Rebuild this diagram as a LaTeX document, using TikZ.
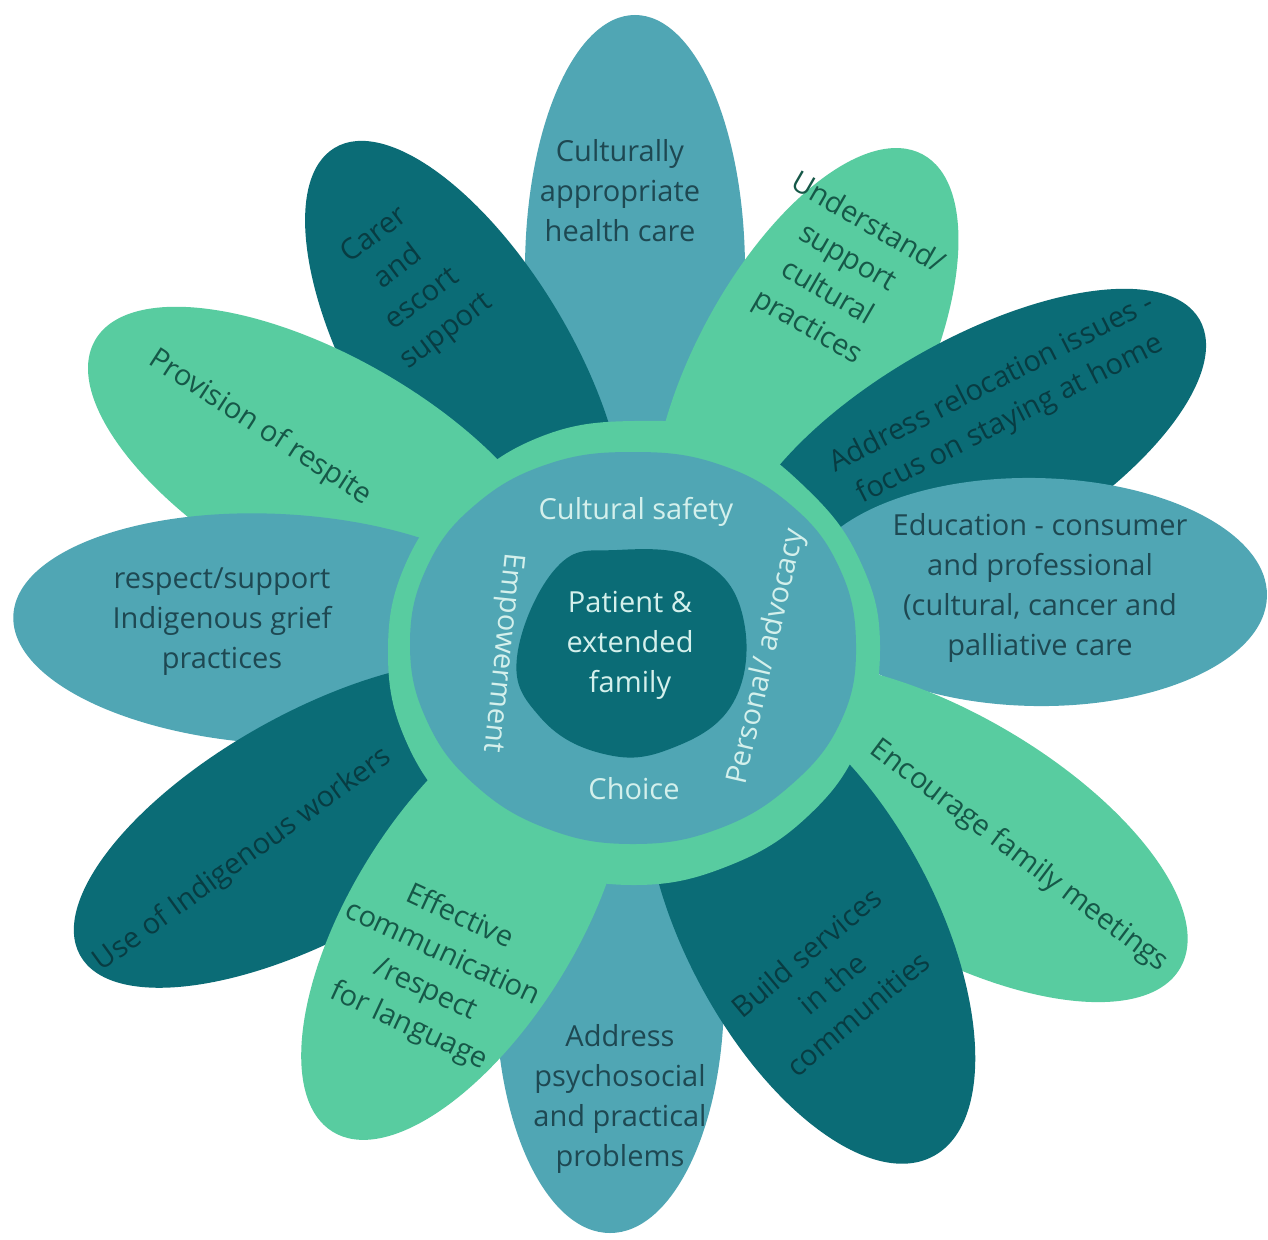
\documentclass[tikz,border=0pt]{standalone}
\usepackage{fontspec}
\setmainfont{Open Sans}
\definecolor{pblue}{RGB}{80,166,180}
\definecolor{pdark}{RGB}{11,108,118}
\definecolor{pgreen}{RGB}{88,204,160}
\definecolor{tblue}{RGB}{30,72,82}
\definecolor{tgreen}{RGB}{22,88,72}
\definecolor{tdark}{RGB}{8,60,66}
\definecolor{tlight}{RGB}{212,240,236}
\tikzset{
  lbl/.style={font=\fontsize{29}{40}\selectfont, align=center, inner sep=0pt},
  onblue/.style={lbl, text=tblue},
  ongreen/.style={lbl, text=tgreen},
  ondark/.style={lbl, text=tdark},
  innerlbl/.style={lbl, text=tlight},
}
\newcommand{\petal}[6]{\fill[#1, rotate around={#4:(#2,#3)}] (#2,#3) ellipse [x radius=#5, y radius=#6];}
\begin{document}
\begin{tikzpicture}[x=1pt, y=-1pt]
\useasboundingbox (0,0) rectangle (1268,1239);
\fill[white] (0,0) rectangle (1268,1239);
% petals (drawing order sets overlaps)
\petal{pblue}{610}{995}{-90}{238}{114}
\petal{pblue}{635}{270}{90}{255}{110}
\petal{pgreen}{805}{375}{62}{250}{112}
\petal{pdark}{465}{367}{120.7}{255}{108}
\petal{pdark}{970}{452}{30}{265}{110}
\petal{pgreen}{325}{472}{150.2}{265}{115}
\petal{pblue}{1035}{592}{-1}{232}{114}
\petal{pblue}{278}{629}{177}{265}{115}
\petal{pgreen}{947}{832}{-30.3}{270}{118}
\petal{pdark}{316}{824}{209.1}{270}{112}
\petal{pdark}{810}{925}{-62}{262}{125}
\petal{pgreen}{464}{919}{238.3}{250}{113}
% ring, disk, core
\fill[pgreen] plot[smooth cycle, tension=0.7] coordinates {
 (880,648) (861,563) (808,490) (728,434) (634,421) (540,437) (460,490) (406,563)
 (388,652) (406,741) (460,816) (540,866) (634,885) (728,866) (808,816) (861,741)};
\fill[pblue] plot[smooth cycle, tension=0.7] coordinates {
 (856,644) (839,567) (791,505) (718,464) (633,452) (548,464) (475,505) (427,567)
 (410,644) (427,721) (475,785) (548,829) (633,844) (718,829) (791,785) (841,721)};
\fill[pdark] plot[smooth cycle, tension=0.7] coordinates {
 (617,550) (700,560) (743,617) (733,703) (667,750) (600,753) (540,717) (517,657) (557,567)};
% petal labels
\node[onblue] (t1) at (620,191) {Culturally\\appropriate\\health care};
\node[ongreen, rotate=-30] (t2) at (837,276) {Understand/\\support\\cultural\\practices};
\node[ondark, rotate=27] (t3) at (1001,402) {Address relocation issues -\\focus on staying at home};
\node[onblue] (t4) at (1040,588) {Education - consumer\\and professional\\(cultural, cancer and\\palliative care};
\node[ongreen, rotate=-37] (t5) at (1019,856) {Encourage family meetings};
\node[ondark, rotate=40] (t6) at (832,983) {Build services\\in the\\communities};
\node[onblue] (t7) at (620,1099) {Address\\psychosocial\\and practical\\problems};
\node[ongreen, rotate=-25] (t8) at (434,972) {Effective\\communication\\/respect\\for language};
\node[ondark, rotate=36] (t9) at (243,860) {Use of Indigenous workers};
\node[onblue] (t10) at (222,622) {respect/support\\Indigenous grief\\practices};
\node[ongreen, rotate=-33] (t11) at (260,428) {Provision of respite};
\node[ondark, rotate=37] (t12) at (411,284) {Carer\\and\\escort\\support};
% inner labels
\node[innerlbl] (cs) at (636,512) {Cultural safety};
\node[innerlbl] (ch) at (634,789) {Choice};
\node[innerlbl, rotate=-96] (em) at (502,653) {Empowerment};
\node[innerlbl, rotate=77] (pa) at (767,657) {Personal/ advocacy};
\node[innerlbl] (core) at (630,645) {Patient \&\\extended\\family};
\end{tikzpicture}
\end{document}
